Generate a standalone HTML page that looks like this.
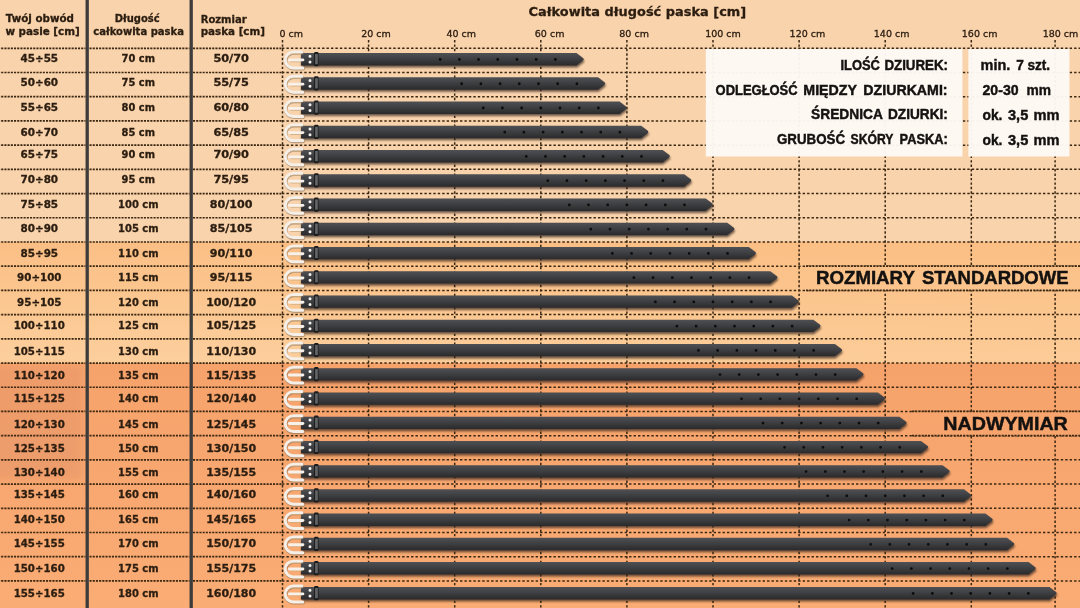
<!DOCTYPE html>
<html lang="pl"><head><meta charset="utf-8"><title>Tabela rozmiarów pasków</title>
<style>
html,body{margin:0;padding:0;background:#f9d3ac;}
body{width:1080px;height:608px;overflow:hidden;position:relative;}
svg{display:block;position:absolute;left:-12px;top:-12px;filter:blur(.55px);}
.v{font-family:"DejaVu Sans","Liberation Sans",sans-serif;font-weight:bold;fill:#2b1d10;}
.a{font-family:"DejaVu Sans","Liberation Sans",sans-serif;font-weight:normal;fill:#2b1d10;stroke:#2b1d10;stroke-width:.3px;}
.c{font-family:"Liberation Sans",sans-serif;font-weight:bold;fill:#141210;stroke:#141210;stroke-width:.45px;}
.v{stroke:#2b1d10;stroke-width:.3px;}
</style></head><body>
<svg width="1104" height="632" viewBox="-12 -12 1104 632">
<defs>
<linearGradient id="g2" gradientUnits="userSpaceOnUse" x1="0" y1="242" x2="0" y2="363"><stop offset="0" stop-color="#fbbf85"/><stop offset="1" stop-color="#fccf9d"/></linearGradient>
<linearGradient id="g3" gradientUnits="userSpaceOnUse" x1="0" y1="363" x2="0" y2="620"><stop offset="0" stop-color="#f6a26b"/><stop offset="1" stop-color="#faad75"/></linearGradient>
<linearGradient id="gh" gradientUnits="userSpaceOnUse" x1="-12" y1="0" x2="1092" y2="0"><stop offset="0.2" stop-color="#fbbd80" stop-opacity="0"/><stop offset="1" stop-color="#fbbd80" stop-opacity=".2"/></linearGradient>
<linearGradient id="belt" x1="0" y1="0" x2="0" y2="1"><stop offset="0" stop-color="#4f5053"/><stop offset="0.45" stop-color="#3f4043"/><stop offset="1" stop-color="#2a2a2c"/></linearGradient>
<linearGradient id="keep" x1="0" y1="0" x2="1" y2="0"><stop offset="0" stop-color="#1c1c1d"/><stop offset="0.5" stop-color="#5a5b5d"/><stop offset="1" stop-color="#343436"/></linearGradient>
<filter id="sh" x="-5%" y="-50%" width="110%" height="250%"><feGaussianBlur stdDeviation="1.1"/></filter>
<filter id="bl" x="-20%" y="-20%" width="140%" height="140%"><feGaussianBlur stdDeviation="3"/></filter>
<g id="buckle">
 <path d="M19.6,-7.1 H11.2 A8.4,7.9 0 0 0 11.2,8.7 H20.4" fill="none" stroke="#7d6a55" stroke-opacity=".5" stroke-width="3.6" stroke-linecap="round" transform="translate(.4,.9)"/>
 <path d="M19.6,-7.1 H11.2 A8.4,7.9 0 0 0 11.2,8.7 H20.4" fill="none" stroke="#f6efe7" stroke-width="3" stroke-linecap="round"/>
 <path d="M8,-5 H19 M8,2.6 H19" fill="none" stroke="#c9aa80" stroke-opacity=".8" stroke-width="1"/>
 <path d="M7,0.7 H20.5" fill="none" stroke="#f7f1ea" stroke-width="2.9" stroke-linecap="round"/>
</g>
<g id="keeper">
 <rect x="314.1" y="-7.2" width="4.4" height="14.2" rx="1" fill="#1b1b1c"/>
 <rect x="315.1" y="-5.2" width="2.7" height="10.2" fill="#636466"/>
</g>
</defs>
<rect x="-12" y="-12" width="1104" height="254.0" fill="#f9d3ac"/>
<rect x="-12" y="242.0" width="1104" height="121.1" fill="url(#g2)"/>
<rect x="-12" y="242.0" width="1104" height="121.1" fill="url(#gh)"/>
<rect x="-12" y="363.0" width="1104" height="257.0" fill="url(#g3)"/>
<rect x="-10" y="366.0" width="92" height="113.1" fill="#ea9a6b" opacity=".75" filter="url(#bl)"/>
<g stroke="#3a2712" stroke-width="1.5" stroke-dasharray="2.4 2.05" fill="none">
<path d="M282,48.30 H1092"/>
<path d="M282,72.51 H1092"/>
<path d="M282,96.72 H1092"/>
<path d="M282,120.93 H1092"/>
<path d="M282,145.14 H1092"/>
<path d="M282,169.35 H1092"/>
<path d="M282,193.56 H1092"/>
<path d="M282,217.77 H1092"/>
<path d="M282,241.98 H1092"/>
<path d="M282,266.19 H1092"/>
<path d="M282,290.40 H1092"/>
<path d="M282,314.61 H1092"/>
<path d="M282,338.82 H1092"/>
<path d="M282,363.03 H1092"/>
<path d="M282,387.24 H1092"/>
<path d="M282,411.45 H1092"/>
<path d="M282,435.66 H1092"/>
<path d="M282,459.87 H1092"/>
<path d="M282,484.08 H1092"/>
<path d="M282,508.29 H1092"/>
<path d="M282,532.50 H1092"/>
<path d="M282,556.71 H1092"/>
<path d="M282,580.92 H1092"/>
<path d="M282.50,40 V620"/>
<path d="M368.60,40 V620"/>
<path d="M454.70,40 V620"/>
<path d="M540.80,40 V620"/>
<path d="M626.90,40 V620"/>
<path d="M713.00,40 V620"/>
<path d="M799.10,40 V620"/>
<path d="M885.20,40 V620"/>
<path d="M971.30,40 V620"/>
<path d="M1055.10,40 V620"/>
</g>
<rect x="806" y="266.2" width="290" height="24.2" fill="url(#g2)"/>
<rect x="806" y="266.2" width="290" height="24.2" fill="url(#gh)"/>
<rect x="912" y="411.5" width="190" height="24.2" fill="url(#g3)"/>
<g stroke="#3a2712" stroke-width="1.7" stroke-dasharray="2.1 1.1" fill="none">
<path d="M-11.6,48.30 H85.5 M89.5,48.30 H189.5 M193,48.30 H282"/>
<path d="M-11.6,72.51 H85.5 M89.5,72.51 H189.5 M193,72.51 H282"/>
<path d="M-11.6,96.72 H85.5 M89.5,96.72 H189.5 M193,96.72 H282"/>
<path d="M-11.6,120.93 H85.5 M89.5,120.93 H189.5 M193,120.93 H282"/>
<path d="M-11.6,145.14 H85.5 M89.5,145.14 H189.5 M193,145.14 H282"/>
<path d="M-11.6,169.35 H85.5 M89.5,169.35 H189.5 M193,169.35 H282"/>
<path d="M-11.6,193.56 H85.5 M89.5,193.56 H189.5 M193,193.56 H282"/>
<path d="M-11.6,217.77 H85.5 M89.5,217.77 H189.5 M193,217.77 H282"/>
<path d="M-11.6,241.98 H85.5 M89.5,241.98 H189.5 M193,241.98 H282"/>
<path d="M-11.6,266.19 H85.5 M89.5,266.19 H189.5 M193,266.19 H282"/>
<path d="M-11.6,290.40 H85.5 M89.5,290.40 H189.5 M193,290.40 H282"/>
<path d="M-11.6,314.61 H85.5 M89.5,314.61 H189.5 M193,314.61 H282"/>
<path d="M-11.6,338.82 H85.5 M89.5,338.82 H189.5 M193,338.82 H282"/>
<path d="M-11.6,363.03 H85.5 M89.5,363.03 H189.5 M193,363.03 H282"/>
<path d="M-11.6,387.24 H85.5 M89.5,387.24 H189.5 M193,387.24 H282"/>
<path d="M-11.6,411.45 H85.5 M89.5,411.45 H189.5 M193,411.45 H282"/>
<path d="M-11.6,435.66 H85.5 M89.5,435.66 H189.5 M193,435.66 H282"/>
<path d="M-11.6,459.87 H85.5 M89.5,459.87 H189.5 M193,459.87 H282"/>
<path d="M-11.6,484.08 H85.5 M89.5,484.08 H189.5 M193,484.08 H282"/>
<path d="M-11.6,508.29 H85.5 M89.5,508.29 H189.5 M193,508.29 H282"/>
<path d="M-11.6,532.50 H85.5 M89.5,532.50 H189.5 M193,532.50 H282"/>
<path d="M-11.6,556.71 H85.5 M89.5,556.71 H189.5 M193,556.71 H282"/>
<path d="M-11.6,580.92 H85.5 M89.5,580.92 H189.5 M193,580.92 H282"/>
<path d="M806,266.19 H1092 M806,290.40 H1092 M912,411.45 H1092 M912,435.66 H1092"/>
</g>
<path d="M301.0,53.05 H576.55 L583.55,58.40 V60.00 L576.55,65.45 H301.0 Z" fill="#33241a" opacity=".7" filter="url(#sh)" transform="translate(0.6,2.1)"/>
<path d="M301.0,53.05 H576.55 L583.55,58.40 V60.00 L576.55,65.45 H301.0 Z" fill="url(#belt)"/>
<path d="M555.35,59.50 h0 M536.15,59.50 h0 M516.95,59.50 h0 M497.75,59.50 h0 M478.55,59.50 h0 M459.35,59.50 h0 M440.15,59.50 h0" stroke="#0c0c0c" stroke-width="2.8" stroke-linecap="round" fill="none"/>
<use href="#keeper" y="59.20"/>
<path d="M310,56.35 h0 M310,62.05 h0" stroke="#f4f1ee" stroke-width="3" stroke-linecap="round"/>
<use href="#buckle" x="282.4" y="59.20"/>
<path d="M301.0,77.29 H598.08 L605.08,82.64 V84.24 L598.08,89.69 H301.0 Z" fill="#33241a" opacity=".7" filter="url(#sh)" transform="translate(0.6,2.1)"/>
<path d="M301.0,77.29 H598.08 L605.08,82.64 V84.24 L598.08,89.69 H301.0 Z" fill="url(#belt)"/>
<path d="M576.88,83.74 h0 M557.67,83.74 h0 M538.48,83.74 h0 M519.27,83.74 h0 M500.07,83.74 h0 M480.88,83.74 h0 M461.68,83.74 h0" stroke="#0c0c0c" stroke-width="2.8" stroke-linecap="round" fill="none"/>
<use href="#keeper" y="83.44"/>
<path d="M310,80.59 h0 M310,86.29 h0" stroke="#f4f1ee" stroke-width="3" stroke-linecap="round"/>
<use href="#buckle" x="282.4" y="83.44"/>
<path d="M301.0,101.53 H619.60 L626.60,106.88 V108.48 L619.60,113.93 H301.0 Z" fill="#33241a" opacity=".7" filter="url(#sh)" transform="translate(0.6,2.1)"/>
<path d="M301.0,101.53 H619.60 L626.60,106.88 V108.48 L619.60,113.93 H301.0 Z" fill="url(#belt)"/>
<path d="M598.40,107.98 h0 M579.20,107.98 h0 M560.00,107.98 h0 M540.80,107.98 h0 M521.60,107.98 h0 M502.40,107.98 h0 M483.20,107.98 h0" stroke="#0c0c0c" stroke-width="2.8" stroke-linecap="round" fill="none"/>
<use href="#keeper" y="107.68"/>
<path d="M310,104.83 h0 M310,110.53 h0" stroke="#f4f1ee" stroke-width="3" stroke-linecap="round"/>
<use href="#buckle" x="282.4" y="107.68"/>
<path d="M301.0,125.77 H641.12 L648.12,131.12 V132.72 L641.12,138.17 H301.0 Z" fill="#33241a" opacity=".7" filter="url(#sh)" transform="translate(0.6,2.1)"/>
<path d="M301.0,125.77 H641.12 L648.12,131.12 V132.72 L641.12,138.17 H301.0 Z" fill="url(#belt)"/>
<path d="M619.92,132.22 h0 M600.72,132.22 h0 M581.52,132.22 h0 M562.32,132.22 h0 M543.12,132.22 h0 M523.92,132.22 h0 M504.72,132.22 h0" stroke="#0c0c0c" stroke-width="2.8" stroke-linecap="round" fill="none"/>
<use href="#keeper" y="131.92"/>
<path d="M310,129.07 h0 M310,134.77 h0" stroke="#f4f1ee" stroke-width="3" stroke-linecap="round"/>
<use href="#buckle" x="282.4" y="131.92"/>
<path d="M301.0,150.01 H662.65 L669.65,155.36 V156.96 L662.65,162.41 H301.0 Z" fill="#33241a" opacity=".7" filter="url(#sh)" transform="translate(0.6,2.1)"/>
<path d="M301.0,150.01 H662.65 L669.65,155.36 V156.96 L662.65,162.41 H301.0 Z" fill="url(#belt)"/>
<path d="M641.45,156.46 h0 M622.25,156.46 h0 M603.05,156.46 h0 M583.85,156.46 h0 M564.65,156.46 h0 M545.45,156.46 h0 M526.25,156.46 h0" stroke="#0c0c0c" stroke-width="2.8" stroke-linecap="round" fill="none"/>
<use href="#keeper" y="156.16"/>
<path d="M310,153.31 h0 M310,159.01 h0" stroke="#f4f1ee" stroke-width="3" stroke-linecap="round"/>
<use href="#buckle" x="282.4" y="156.16"/>
<path d="M301.0,174.25 H684.17 L691.17,179.60 V181.20 L684.17,186.65 H301.0 Z" fill="#33241a" opacity=".7" filter="url(#sh)" transform="translate(0.6,2.1)"/>
<path d="M301.0,174.25 H684.17 L691.17,179.60 V181.20 L684.17,186.65 H301.0 Z" fill="url(#belt)"/>
<path d="M662.97,180.70 h0 M643.77,180.70 h0 M624.57,180.70 h0 M605.37,180.70 h0 M586.17,180.70 h0 M566.97,180.70 h0 M547.77,180.70 h0" stroke="#0c0c0c" stroke-width="2.8" stroke-linecap="round" fill="none"/>
<use href="#keeper" y="180.40"/>
<path d="M310,177.55 h0 M310,183.25 h0" stroke="#f4f1ee" stroke-width="3" stroke-linecap="round"/>
<use href="#buckle" x="282.4" y="180.40"/>
<path d="M301.0,198.49 H705.70 L712.70,203.84 V205.44 L705.70,210.89 H301.0 Z" fill="#33241a" opacity=".7" filter="url(#sh)" transform="translate(0.6,2.1)"/>
<path d="M301.0,198.49 H705.70 L712.70,203.84 V205.44 L705.70,210.89 H301.0 Z" fill="url(#belt)"/>
<path d="M684.50,204.94 h0 M665.30,204.94 h0 M646.10,204.94 h0 M626.90,204.94 h0 M607.70,204.94 h0 M588.50,204.94 h0 M569.30,204.94 h0" stroke="#0c0c0c" stroke-width="2.8" stroke-linecap="round" fill="none"/>
<use href="#keeper" y="204.64"/>
<path d="M310,201.79 h0 M310,207.49 h0" stroke="#f4f1ee" stroke-width="3" stroke-linecap="round"/>
<use href="#buckle" x="282.4" y="204.64"/>
<path d="M301.0,222.73 H727.23 L734.23,228.08 V229.68 L727.23,235.13 H301.0 Z" fill="#33241a" opacity=".7" filter="url(#sh)" transform="translate(0.6,2.1)"/>
<path d="M301.0,222.73 H727.23 L734.23,228.08 V229.68 L727.23,235.13 H301.0 Z" fill="url(#belt)"/>
<path d="M706.02,229.18 h0 M686.82,229.18 h0 M667.62,229.18 h0 M648.42,229.18 h0 M629.23,229.18 h0 M610.02,229.18 h0 M590.83,229.18 h0" stroke="#0c0c0c" stroke-width="2.8" stroke-linecap="round" fill="none"/>
<use href="#keeper" y="228.88"/>
<path d="M310,226.03 h0 M310,231.73 h0" stroke="#f4f1ee" stroke-width="3" stroke-linecap="round"/>
<use href="#buckle" x="282.4" y="228.88"/>
<path d="M301.0,246.97 H748.75 L755.75,252.32 V253.92 L748.75,259.37 H301.0 Z" fill="#33241a" opacity=".7" filter="url(#sh)" transform="translate(0.6,2.1)"/>
<path d="M301.0,246.97 H748.75 L755.75,252.32 V253.92 L748.75,259.37 H301.0 Z" fill="url(#belt)"/>
<path d="M727.55,253.42 h0 M708.35,253.42 h0 M689.15,253.42 h0 M669.95,253.42 h0 M650.75,253.42 h0 M631.55,253.42 h0 M612.35,253.42 h0" stroke="#0c0c0c" stroke-width="2.8" stroke-linecap="round" fill="none"/>
<use href="#keeper" y="253.12"/>
<path d="M310,250.27 h0 M310,255.97 h0" stroke="#f4f1ee" stroke-width="3" stroke-linecap="round"/>
<use href="#buckle" x="282.4" y="253.12"/>
<path d="M301.0,271.21 H770.28 L777.28,276.56 V278.16 L770.28,283.61 H301.0 Z" fill="#33241a" opacity=".7" filter="url(#sh)" transform="translate(0.6,2.1)"/>
<path d="M301.0,271.21 H770.28 L777.28,276.56 V278.16 L770.28,283.61 H301.0 Z" fill="url(#belt)"/>
<path d="M749.08,277.66 h0 M729.88,277.66 h0 M710.68,277.66 h0 M691.48,277.66 h0 M672.28,277.66 h0 M653.08,277.66 h0 M633.88,277.66 h0" stroke="#0c0c0c" stroke-width="2.8" stroke-linecap="round" fill="none"/>
<use href="#keeper" y="277.36"/>
<path d="M310,274.51 h0 M310,280.21 h0" stroke="#f4f1ee" stroke-width="3" stroke-linecap="round"/>
<use href="#buckle" x="282.4" y="277.36"/>
<path d="M301.0,295.45 H791.80 L798.80,300.80 V302.40 L791.80,307.85 H301.0 Z" fill="#33241a" opacity=".7" filter="url(#sh)" transform="translate(0.6,2.1)"/>
<path d="M301.0,295.45 H791.80 L798.80,300.80 V302.40 L791.80,307.85 H301.0 Z" fill="url(#belt)"/>
<path d="M770.60,301.90 h0 M751.40,301.90 h0 M732.20,301.90 h0 M713.00,301.90 h0 M693.80,301.90 h0 M674.60,301.90 h0 M655.40,301.90 h0" stroke="#0c0c0c" stroke-width="2.8" stroke-linecap="round" fill="none"/>
<use href="#keeper" y="301.60"/>
<path d="M310,298.75 h0 M310,304.45 h0" stroke="#f4f1ee" stroke-width="3" stroke-linecap="round"/>
<use href="#buckle" x="282.4" y="301.60"/>
<path d="M301.0,319.69 H813.33 L820.33,325.04 V326.64 L813.33,332.09 H301.0 Z" fill="#33241a" opacity=".7" filter="url(#sh)" transform="translate(0.6,2.1)"/>
<path d="M301.0,319.69 H813.33 L820.33,325.04 V326.64 L813.33,332.09 H301.0 Z" fill="url(#belt)"/>
<path d="M792.12,326.14 h0 M772.92,326.14 h0 M753.73,326.14 h0 M734.52,326.14 h0 M715.33,326.14 h0 M696.12,326.14 h0 M676.92,326.14 h0" stroke="#0c0c0c" stroke-width="2.8" stroke-linecap="round" fill="none"/>
<use href="#keeper" y="325.84"/>
<path d="M310,322.99 h0 M310,328.69 h0" stroke="#f4f1ee" stroke-width="3" stroke-linecap="round"/>
<use href="#buckle" x="282.4" y="325.84"/>
<path d="M301.0,343.93 H834.85 L841.85,349.28 V350.88 L834.85,356.33 H301.0 Z" fill="#33241a" opacity=".7" filter="url(#sh)" transform="translate(0.6,2.1)"/>
<path d="M301.0,343.93 H834.85 L841.85,349.28 V350.88 L834.85,356.33 H301.0 Z" fill="url(#belt)"/>
<path d="M813.65,350.38 h0 M794.45,350.38 h0 M775.25,350.38 h0 M756.05,350.38 h0 M736.85,350.38 h0 M717.65,350.38 h0 M698.45,350.38 h0" stroke="#0c0c0c" stroke-width="2.8" stroke-linecap="round" fill="none"/>
<use href="#keeper" y="350.08"/>
<path d="M310,347.23 h0 M310,352.93 h0" stroke="#f4f1ee" stroke-width="3" stroke-linecap="round"/>
<use href="#buckle" x="282.4" y="350.08"/>
<path d="M301.0,368.17 H856.38 L863.38,373.52 V375.12 L856.38,380.57 H301.0 Z" fill="#33241a" opacity=".7" filter="url(#sh)" transform="translate(0.6,2.1)"/>
<path d="M301.0,368.17 H856.38 L863.38,373.52 V375.12 L856.38,380.57 H301.0 Z" fill="url(#belt)"/>
<path d="M835.17,374.62 h0 M815.97,374.62 h0 M796.77,374.62 h0 M777.57,374.62 h0 M758.38,374.62 h0 M739.17,374.62 h0 M719.97,374.62 h0" stroke="#0c0c0c" stroke-width="2.8" stroke-linecap="round" fill="none"/>
<use href="#keeper" y="374.32"/>
<path d="M310,371.47 h0 M310,377.17 h0" stroke="#f4f1ee" stroke-width="3" stroke-linecap="round"/>
<use href="#buckle" x="282.4" y="374.32"/>
<path d="M301.0,392.41 H877.90 L884.90,397.76 V399.36 L877.90,404.81 H301.0 Z" fill="#33241a" opacity=".7" filter="url(#sh)" transform="translate(0.6,2.1)"/>
<path d="M301.0,392.41 H877.90 L884.90,397.76 V399.36 L877.90,404.81 H301.0 Z" fill="url(#belt)"/>
<path d="M856.70,398.86 h0 M837.50,398.86 h0 M818.30,398.86 h0 M799.10,398.86 h0 M779.90,398.86 h0 M760.70,398.86 h0 M741.50,398.86 h0" stroke="#0c0c0c" stroke-width="2.8" stroke-linecap="round" fill="none"/>
<use href="#keeper" y="398.56"/>
<path d="M310,395.71 h0 M310,401.41 h0" stroke="#f4f1ee" stroke-width="3" stroke-linecap="round"/>
<use href="#buckle" x="282.4" y="398.56"/>
<path d="M301.0,416.65 H899.42 L906.42,422.00 V423.60 L899.42,429.05 H301.0 Z" fill="#33241a" opacity=".7" filter="url(#sh)" transform="translate(0.6,2.1)"/>
<path d="M301.0,416.65 H899.42 L906.42,422.00 V423.60 L899.42,429.05 H301.0 Z" fill="url(#belt)"/>
<path d="M878.22,423.10 h0 M859.02,423.10 h0 M839.82,423.10 h0 M820.62,423.10 h0 M801.42,423.10 h0 M782.22,423.10 h0 M763.02,423.10 h0" stroke="#0c0c0c" stroke-width="2.8" stroke-linecap="round" fill="none"/>
<use href="#keeper" y="422.80"/>
<path d="M310,419.95 h0 M310,425.65 h0" stroke="#f4f1ee" stroke-width="3" stroke-linecap="round"/>
<use href="#buckle" x="282.4" y="422.80"/>
<path d="M301.0,440.89 H920.95 L927.95,446.24 V447.84 L920.95,453.29 H301.0 Z" fill="#33241a" opacity=".7" filter="url(#sh)" transform="translate(0.6,2.1)"/>
<path d="M301.0,440.89 H920.95 L927.95,446.24 V447.84 L920.95,453.29 H301.0 Z" fill="url(#belt)"/>
<path d="M899.75,447.34 h0 M880.55,447.34 h0 M861.35,447.34 h0 M842.15,447.34 h0 M822.95,447.34 h0 M803.75,447.34 h0 M784.55,447.34 h0" stroke="#0c0c0c" stroke-width="2.8" stroke-linecap="round" fill="none"/>
<use href="#keeper" y="447.04"/>
<path d="M310,444.19 h0 M310,449.89 h0" stroke="#f4f1ee" stroke-width="3" stroke-linecap="round"/>
<use href="#buckle" x="282.4" y="447.04"/>
<path d="M301.0,465.13 H942.48 L949.48,470.48 V472.08 L942.48,477.53 H301.0 Z" fill="#33241a" opacity=".7" filter="url(#sh)" transform="translate(0.6,2.1)"/>
<path d="M301.0,465.13 H942.48 L949.48,470.48 V472.08 L942.48,477.53 H301.0 Z" fill="url(#belt)"/>
<path d="M921.27,471.58 h0 M902.07,471.58 h0 M882.88,471.58 h0 M863.67,471.58 h0 M844.48,471.58 h0 M825.27,471.58 h0 M806.08,471.58 h0" stroke="#0c0c0c" stroke-width="2.8" stroke-linecap="round" fill="none"/>
<use href="#keeper" y="471.28"/>
<path d="M310,468.43 h0 M310,474.13 h0" stroke="#f4f1ee" stroke-width="3" stroke-linecap="round"/>
<use href="#buckle" x="282.4" y="471.28"/>
<path d="M301.0,489.37 H964.00 L971.00,494.72 V496.32 L964.00,501.77 H301.0 Z" fill="#33241a" opacity=".7" filter="url(#sh)" transform="translate(0.6,2.1)"/>
<path d="M301.0,489.37 H964.00 L971.00,494.72 V496.32 L964.00,501.77 H301.0 Z" fill="url(#belt)"/>
<path d="M942.80,495.82 h0 M923.60,495.82 h0 M904.40,495.82 h0 M885.20,495.82 h0 M866.00,495.82 h0 M846.80,495.82 h0 M827.60,495.82 h0" stroke="#0c0c0c" stroke-width="2.8" stroke-linecap="round" fill="none"/>
<use href="#keeper" y="495.52"/>
<path d="M310,492.67 h0 M310,498.37 h0" stroke="#f4f1ee" stroke-width="3" stroke-linecap="round"/>
<use href="#buckle" x="282.4" y="495.52"/>
<path d="M301.0,513.61 H985.52 L992.52,518.96 V520.56 L985.52,526.01 H301.0 Z" fill="#33241a" opacity=".7" filter="url(#sh)" transform="translate(0.6,2.1)"/>
<path d="M301.0,513.61 H985.52 L992.52,518.96 V520.56 L985.52,526.01 H301.0 Z" fill="url(#belt)"/>
<path d="M964.32,520.06 h0 M945.12,520.06 h0 M925.92,520.06 h0 M906.72,520.06 h0 M887.52,520.06 h0 M868.32,520.06 h0 M849.12,520.06 h0" stroke="#0c0c0c" stroke-width="2.8" stroke-linecap="round" fill="none"/>
<use href="#keeper" y="519.76"/>
<path d="M310,516.91 h0 M310,522.61 h0" stroke="#f4f1ee" stroke-width="3" stroke-linecap="round"/>
<use href="#buckle" x="282.4" y="519.76"/>
<path d="M301.0,537.85 H1007.05 L1014.05,543.20 V544.80 L1007.05,550.25 H301.0 Z" fill="#33241a" opacity=".7" filter="url(#sh)" transform="translate(0.6,2.1)"/>
<path d="M301.0,537.85 H1007.05 L1014.05,543.20 V544.80 L1007.05,550.25 H301.0 Z" fill="url(#belt)"/>
<path d="M985.85,544.30 h0 M966.65,544.30 h0 M947.45,544.30 h0 M928.25,544.30 h0 M909.05,544.30 h0 M889.85,544.30 h0 M870.65,544.30 h0" stroke="#0c0c0c" stroke-width="2.8" stroke-linecap="round" fill="none"/>
<use href="#keeper" y="544.00"/>
<path d="M310,541.15 h0 M310,546.85 h0" stroke="#f4f1ee" stroke-width="3" stroke-linecap="round"/>
<use href="#buckle" x="282.4" y="544.00"/>
<path d="M301.0,562.09 H1028.58 L1035.58,567.44 V569.04 L1028.58,574.49 H301.0 Z" fill="#33241a" opacity=".7" filter="url(#sh)" transform="translate(0.6,2.1)"/>
<path d="M301.0,562.09 H1028.58 L1035.58,567.44 V569.04 L1028.58,574.49 H301.0 Z" fill="url(#belt)"/>
<path d="M1007.38,568.54 h0 M988.17,568.54 h0 M968.98,568.54 h0 M949.77,568.54 h0 M930.58,568.54 h0 M911.38,568.54 h0 M892.17,568.54 h0" stroke="#0c0c0c" stroke-width="2.8" stroke-linecap="round" fill="none"/>
<use href="#keeper" y="568.24"/>
<path d="M310,565.39 h0 M310,571.09 h0" stroke="#f4f1ee" stroke-width="3" stroke-linecap="round"/>
<use href="#buckle" x="282.4" y="568.24"/>
<path d="M301.0,587.03 H1049.50 L1056.50,592.38 V593.98 L1049.50,599.43 H301.0 Z" fill="#33241a" opacity=".7" filter="url(#sh)" transform="translate(0.6,2.1)"/>
<path d="M301.0,587.03 H1049.50 L1056.50,592.38 V593.98 L1049.50,599.43 H301.0 Z" fill="url(#belt)"/>
<path d="M1028.30,593.48 h0 M1009.10,593.48 h0 M989.90,593.48 h0 M970.70,593.48 h0 M951.50,593.48 h0 M932.30,593.48 h0 M913.10,593.48 h0" stroke="#0c0c0c" stroke-width="2.8" stroke-linecap="round" fill="none"/>
<use href="#keeper" y="593.18"/>
<path d="M310,590.33 h0 M310,596.03 h0" stroke="#f4f1ee" stroke-width="3" stroke-linecap="round"/>
<use href="#buckle" x="282.4" y="593.18"/>
<path d="M87.2,-12 V620 M191.2,-12 V620" stroke="#3e3c3b" stroke-width="3.3" fill="none"/>
<rect x="705.8" y="49" width="256.6" height="107.5" fill="#fdf9f5" fill-opacity=".965"/>
<rect x="968.4" y="49" width="101" height="107.5" fill="#fdf9f5" fill-opacity=".965"/>
<text class="v" x="5.8" y="22.2" font-size="10" text-anchor="start" textLength="68.2" lengthAdjust="spacingAndGlyphs">Twój obwód</text>
<text class="v" x="5.4" y="34.7" font-size="10" text-anchor="start" textLength="74.4" lengthAdjust="spacingAndGlyphs">w pasie [cm]</text>
<text class="v" x="114.8" y="22.2" font-size="10" text-anchor="start" textLength="44.9" lengthAdjust="spacingAndGlyphs">Długość</text>
<text class="v" x="93.3" y="34.6" font-size="10" text-anchor="start" textLength="90.6" lengthAdjust="spacingAndGlyphs">całkowita paska</text>
<text class="v" x="200.7" y="22.5" font-size="10" text-anchor="start" textLength="46" lengthAdjust="spacingAndGlyphs">Rozmiar</text>
<text class="v" x="200.7" y="35.2" font-size="10" text-anchor="start" textLength="64.3" lengthAdjust="spacingAndGlyphs">paska [cm]</text>
<text class="v" x="528.6" y="16.3" font-size="12.8" text-anchor="start" textLength="217.6" lengthAdjust="spacingAndGlyphs">Całkowita długość paska [cm]</text>
<text class="a" x="279.4" y="36.9" font-size="9.5" text-anchor="start">0 cm</text>
<text class="a" x="361.2" y="36.9" font-size="9.5" text-anchor="start">20 cm</text>
<text class="a" x="446.4" y="36.9" font-size="9.5" text-anchor="start">40 cm</text>
<text class="a" x="534.8" y="36.9" font-size="9.5" text-anchor="start">60 cm</text>
<text class="a" x="619.3" y="36.9" font-size="9.5" text-anchor="start">80 cm</text>
<text class="a" x="705.2" y="36.9" font-size="9.5" text-anchor="start">100 cm</text>
<text class="a" x="789.6" y="36.9" font-size="9.5" text-anchor="start">120 cm</text>
<text class="a" x="873.8" y="36.9" font-size="9.5" text-anchor="start">140 cm</text>
<text class="a" x="961.8" y="36.9" font-size="9.5" text-anchor="start">160 cm</text>
<text class="a" x="1042.7" y="36.9" font-size="9.5" text-anchor="start">180 cm</text>
<text class="v" x="20.5" y="61.8" font-size="10" text-anchor="start" textLength="37.6" lengthAdjust="spacingAndGlyphs">45÷55</text>
<text class="v" x="121.6" y="61.8" font-size="10" text-anchor="start" textLength="33.4" lengthAdjust="spacingAndGlyphs">70 cm</text>
<text class="v" x="213.4" y="61.8" font-size="10" text-anchor="start" textLength="35.6" lengthAdjust="spacingAndGlyphs">50/70</text>
<text class="v" x="20.5" y="86.2" font-size="10" text-anchor="start" textLength="37.6" lengthAdjust="spacingAndGlyphs">50÷60</text>
<text class="v" x="121.6" y="86.2" font-size="10" text-anchor="start" textLength="33.4" lengthAdjust="spacingAndGlyphs">75 cm</text>
<text class="v" x="213.4" y="86.2" font-size="10" text-anchor="start" textLength="35.6" lengthAdjust="spacingAndGlyphs">55/75</text>
<text class="v" x="20.5" y="111.1" font-size="10" text-anchor="start" textLength="37.6" lengthAdjust="spacingAndGlyphs">55÷65</text>
<text class="v" x="121.6" y="111.1" font-size="10" text-anchor="start" textLength="33.4" lengthAdjust="spacingAndGlyphs">80 cm</text>
<text class="v" x="213.4" y="111.1" font-size="10" text-anchor="start" textLength="35.6" lengthAdjust="spacingAndGlyphs">60/80</text>
<text class="v" x="20.5" y="135.8" font-size="10" text-anchor="start" textLength="37.6" lengthAdjust="spacingAndGlyphs">60÷70</text>
<text class="v" x="121.6" y="135.8" font-size="10" text-anchor="start" textLength="33.4" lengthAdjust="spacingAndGlyphs">85 cm</text>
<text class="v" x="213.4" y="135.8" font-size="10" text-anchor="start" textLength="35.6" lengthAdjust="spacingAndGlyphs">65/85</text>
<text class="v" x="20.5" y="158.0" font-size="10" text-anchor="start" textLength="37.6" lengthAdjust="spacingAndGlyphs">65÷75</text>
<text class="v" x="121.6" y="158.0" font-size="10" text-anchor="start" textLength="33.4" lengthAdjust="spacingAndGlyphs">90 cm</text>
<text class="v" x="213.4" y="158.0" font-size="10" text-anchor="start" textLength="35.6" lengthAdjust="spacingAndGlyphs">70/90</text>
<text class="v" x="20.5" y="182.7" font-size="10" text-anchor="start" textLength="37.6" lengthAdjust="spacingAndGlyphs">70÷80</text>
<text class="v" x="121.6" y="182.7" font-size="10" text-anchor="start" textLength="33.4" lengthAdjust="spacingAndGlyphs">95 cm</text>
<text class="v" x="213.4" y="182.7" font-size="10" text-anchor="start" textLength="35.6" lengthAdjust="spacingAndGlyphs">75/95</text>
<text class="v" x="20.5" y="207.8" font-size="10" text-anchor="start" textLength="37.6" lengthAdjust="spacingAndGlyphs">75÷85</text>
<text class="v" x="118.1" y="207.8" font-size="10" text-anchor="start" textLength="40.4" lengthAdjust="spacingAndGlyphs">100 cm</text>
<text class="v" x="209.8" y="207.8" font-size="10" text-anchor="start" textLength="42.8" lengthAdjust="spacingAndGlyphs">80/100</text>
<text class="v" x="20.5" y="232.2" font-size="10" text-anchor="start" textLength="37.6" lengthAdjust="spacingAndGlyphs">80÷90</text>
<text class="v" x="118.1" y="232.2" font-size="10" text-anchor="start" textLength="40.4" lengthAdjust="spacingAndGlyphs">105 cm</text>
<text class="v" x="209.8" y="232.2" font-size="10" text-anchor="start" textLength="42.8" lengthAdjust="spacingAndGlyphs">85/105</text>
<text class="v" x="20.5" y="257.1" font-size="10" text-anchor="start" textLength="37.6" lengthAdjust="spacingAndGlyphs">85÷95</text>
<text class="v" x="118.1" y="257.1" font-size="10" text-anchor="start" textLength="40.4" lengthAdjust="spacingAndGlyphs">110 cm</text>
<text class="v" x="209.8" y="257.1" font-size="10" text-anchor="start" textLength="42.8" lengthAdjust="spacingAndGlyphs">90/110</text>
<text class="v" x="17.1" y="281.3" font-size="10" text-anchor="start" textLength="44.4" lengthAdjust="spacingAndGlyphs">90÷100</text>
<text class="v" x="118.1" y="281.3" font-size="10" text-anchor="start" textLength="40.4" lengthAdjust="spacingAndGlyphs">115 cm</text>
<text class="v" x="209.8" y="281.3" font-size="10" text-anchor="start" textLength="42.8" lengthAdjust="spacingAndGlyphs">95/115</text>
<text class="v" x="17.1" y="306.0" font-size="10" text-anchor="start" textLength="44.4" lengthAdjust="spacingAndGlyphs">95÷105</text>
<text class="v" x="118.1" y="306.0" font-size="10" text-anchor="start" textLength="40.4" lengthAdjust="spacingAndGlyphs">120 cm</text>
<text class="v" x="206.2" y="306.0" font-size="10" text-anchor="start" textLength="50.0" lengthAdjust="spacingAndGlyphs">100/120</text>
<text class="v" x="13.7" y="328.7" font-size="10" text-anchor="start" textLength="51.1" lengthAdjust="spacingAndGlyphs">100÷110</text>
<text class="v" x="118.1" y="328.7" font-size="10" text-anchor="start" textLength="40.4" lengthAdjust="spacingAndGlyphs">125 cm</text>
<text class="v" x="206.2" y="328.7" font-size="10" text-anchor="start" textLength="50.0" lengthAdjust="spacingAndGlyphs">105/125</text>
<text class="v" x="13.7" y="354.7" font-size="10" text-anchor="start" textLength="51.1" lengthAdjust="spacingAndGlyphs">105÷115</text>
<text class="v" x="118.1" y="354.7" font-size="10" text-anchor="start" textLength="40.4" lengthAdjust="spacingAndGlyphs">130 cm</text>
<text class="v" x="206.2" y="354.7" font-size="10" text-anchor="start" textLength="50.0" lengthAdjust="spacingAndGlyphs">110/130</text>
<text class="v" x="13.7" y="379.4" font-size="10" text-anchor="start" textLength="51.1" lengthAdjust="spacingAndGlyphs">110÷120</text>
<text class="v" x="118.1" y="379.4" font-size="10" text-anchor="start" textLength="40.4" lengthAdjust="spacingAndGlyphs">135 cm</text>
<text class="v" x="206.2" y="379.4" font-size="10" text-anchor="start" textLength="50.0" lengthAdjust="spacingAndGlyphs">115/135</text>
<text class="v" x="13.7" y="402.1" font-size="10" text-anchor="start" textLength="51.1" lengthAdjust="spacingAndGlyphs">115÷125</text>
<text class="v" x="118.1" y="402.1" font-size="10" text-anchor="start" textLength="40.4" lengthAdjust="spacingAndGlyphs">140 cm</text>
<text class="v" x="206.2" y="402.1" font-size="10" text-anchor="start" textLength="50.0" lengthAdjust="spacingAndGlyphs">120/140</text>
<text class="v" x="13.7" y="427.8" font-size="10" text-anchor="start" textLength="51.1" lengthAdjust="spacingAndGlyphs">120÷130</text>
<text class="v" x="118.1" y="427.8" font-size="10" text-anchor="start" textLength="40.4" lengthAdjust="spacingAndGlyphs">145 cm</text>
<text class="v" x="206.2" y="427.8" font-size="10" text-anchor="start" textLength="50.0" lengthAdjust="spacingAndGlyphs">125/145</text>
<text class="v" x="13.7" y="452.4" font-size="10" text-anchor="start" textLength="51.1" lengthAdjust="spacingAndGlyphs">125÷135</text>
<text class="v" x="118.1" y="452.4" font-size="10" text-anchor="start" textLength="40.4" lengthAdjust="spacingAndGlyphs">150 cm</text>
<text class="v" x="206.2" y="452.4" font-size="10" text-anchor="start" textLength="50.0" lengthAdjust="spacingAndGlyphs">130/150</text>
<text class="v" x="13.7" y="476.4" font-size="10" text-anchor="start" textLength="51.1" lengthAdjust="spacingAndGlyphs">130÷140</text>
<text class="v" x="118.1" y="476.4" font-size="10" text-anchor="start" textLength="40.4" lengthAdjust="spacingAndGlyphs">155 cm</text>
<text class="v" x="206.2" y="476.4" font-size="10" text-anchor="start" textLength="50.0" lengthAdjust="spacingAndGlyphs">135/155</text>
<text class="v" x="13.7" y="497.9" font-size="10" text-anchor="start" textLength="51.1" lengthAdjust="spacingAndGlyphs">135÷145</text>
<text class="v" x="118.1" y="497.9" font-size="10" text-anchor="start" textLength="40.4" lengthAdjust="spacingAndGlyphs">160 cm</text>
<text class="v" x="206.2" y="497.9" font-size="10" text-anchor="start" textLength="50.0" lengthAdjust="spacingAndGlyphs">140/160</text>
<text class="v" x="13.7" y="522.7" font-size="10" text-anchor="start" textLength="51.1" lengthAdjust="spacingAndGlyphs">140÷150</text>
<text class="v" x="118.1" y="522.7" font-size="10" text-anchor="start" textLength="40.4" lengthAdjust="spacingAndGlyphs">165 cm</text>
<text class="v" x="206.2" y="522.7" font-size="10" text-anchor="start" textLength="50.0" lengthAdjust="spacingAndGlyphs">145/165</text>
<text class="v" x="13.7" y="547.4" font-size="10" text-anchor="start" textLength="51.1" lengthAdjust="spacingAndGlyphs">145÷155</text>
<text class="v" x="118.1" y="547.4" font-size="10" text-anchor="start" textLength="40.4" lengthAdjust="spacingAndGlyphs">170 cm</text>
<text class="v" x="206.2" y="547.4" font-size="10" text-anchor="start" textLength="50.0" lengthAdjust="spacingAndGlyphs">150/170</text>
<text class="v" x="13.7" y="572.2" font-size="10" text-anchor="start" textLength="51.1" lengthAdjust="spacingAndGlyphs">150÷160</text>
<text class="v" x="118.1" y="572.2" font-size="10" text-anchor="start" textLength="40.4" lengthAdjust="spacingAndGlyphs">175 cm</text>
<text class="v" x="206.2" y="572.2" font-size="10" text-anchor="start" textLength="50.0" lengthAdjust="spacingAndGlyphs">155/175</text>
<text class="v" x="13.7" y="596.8" font-size="10" text-anchor="start" textLength="51.1" lengthAdjust="spacingAndGlyphs">155÷165</text>
<text class="v" x="118.1" y="596.8" font-size="10" text-anchor="start" textLength="40.4" lengthAdjust="spacingAndGlyphs">180 cm</text>
<text class="v" x="206.2" y="596.8" font-size="10" text-anchor="start" textLength="50.0" lengthAdjust="spacingAndGlyphs">160/180</text>
<text class="c" y="70.2" font-size="14.8" xml:space="preserve"><tspan x="840.4" textLength="39.5" lengthAdjust="spacingAndGlyphs">ILOŚĆ</tspan> <tspan x="884.4" textLength="63.6" lengthAdjust="spacingAndGlyphs">DZIUREK:</tspan></text>
<text class="c" y="94.7" font-size="14.8" xml:space="preserve"><tspan x="715.6" textLength="82.0" lengthAdjust="spacingAndGlyphs">ODLEGŁOŚĆ</tspan> <tspan x="803.3" textLength="53.4" lengthAdjust="spacingAndGlyphs">MIĘDZY</tspan> <tspan x="863.3" textLength="84.3" lengthAdjust="spacingAndGlyphs">DZIURKAMI:</tspan></text>
<text class="c" y="119.4" font-size="14.8" xml:space="preserve"><tspan x="811.1" textLength="71.3" lengthAdjust="spacingAndGlyphs">ŚREDNICA</tspan> <tspan x="888.0" textLength="59.8" lengthAdjust="spacingAndGlyphs">DZIURKI:</tspan></text>
<text class="c" y="144.1" font-size="14.8" xml:space="preserve"><tspan x="777.0" textLength="68.0" lengthAdjust="spacingAndGlyphs">GRUBOŚĆ</tspan> <tspan x="850.6" textLength="42.5" lengthAdjust="spacingAndGlyphs">SKÓRY</tspan> <tspan x="899.6" textLength="48.2" lengthAdjust="spacingAndGlyphs">PASKA:</tspan></text>
<text class="c" y="70.4" font-size="15.4" xml:space="preserve"><tspan x="980.6" textLength="29.7" lengthAdjust="spacingAndGlyphs">min.</tspan> <tspan x="1016.3" textLength="7.6" lengthAdjust="spacingAndGlyphs">7</tspan> <tspan x="1027.4" textLength="22.7" lengthAdjust="spacingAndGlyphs">szt.</tspan></text>
<text class="c" y="95.4" font-size="15.4" xml:space="preserve"><tspan x="982.5" textLength="36.1" lengthAdjust="spacingAndGlyphs">20-30</tspan> <tspan x="1026.5" textLength="24.5" lengthAdjust="spacingAndGlyphs">mm</tspan></text>
<text class="c" y="119.7" font-size="15.4" xml:space="preserve"><tspan x="982.5" textLength="19.9" lengthAdjust="spacingAndGlyphs">ok.</tspan> <tspan x="1008.0" textLength="20.3" lengthAdjust="spacingAndGlyphs">3,5</tspan> <tspan x="1033.4" textLength="26.0" lengthAdjust="spacingAndGlyphs">mm</tspan></text>
<text class="c" y="144.5" font-size="15.4" xml:space="preserve"><tspan x="982.5" textLength="19.9" lengthAdjust="spacingAndGlyphs">ok.</tspan> <tspan x="1008.0" textLength="20.3" lengthAdjust="spacingAndGlyphs">3,5</tspan> <tspan x="1033.4" textLength="26.0" lengthAdjust="spacingAndGlyphs">mm</tspan></text>
<text class="c" y="284.0" font-size="19" xml:space="preserve"><tspan x="816.0" textLength="98.5" lengthAdjust="spacingAndGlyphs">ROZMIARY</tspan> <tspan x="921.9" textLength="146.7" lengthAdjust="spacingAndGlyphs">STANDARDOWE</tspan></text>
<text class="c" y="429.9" font-size="19" xml:space="preserve"><tspan x="943.3" textLength="124.5" lengthAdjust="spacingAndGlyphs">NADWYMIAR</tspan></text>
</svg></body></html>
